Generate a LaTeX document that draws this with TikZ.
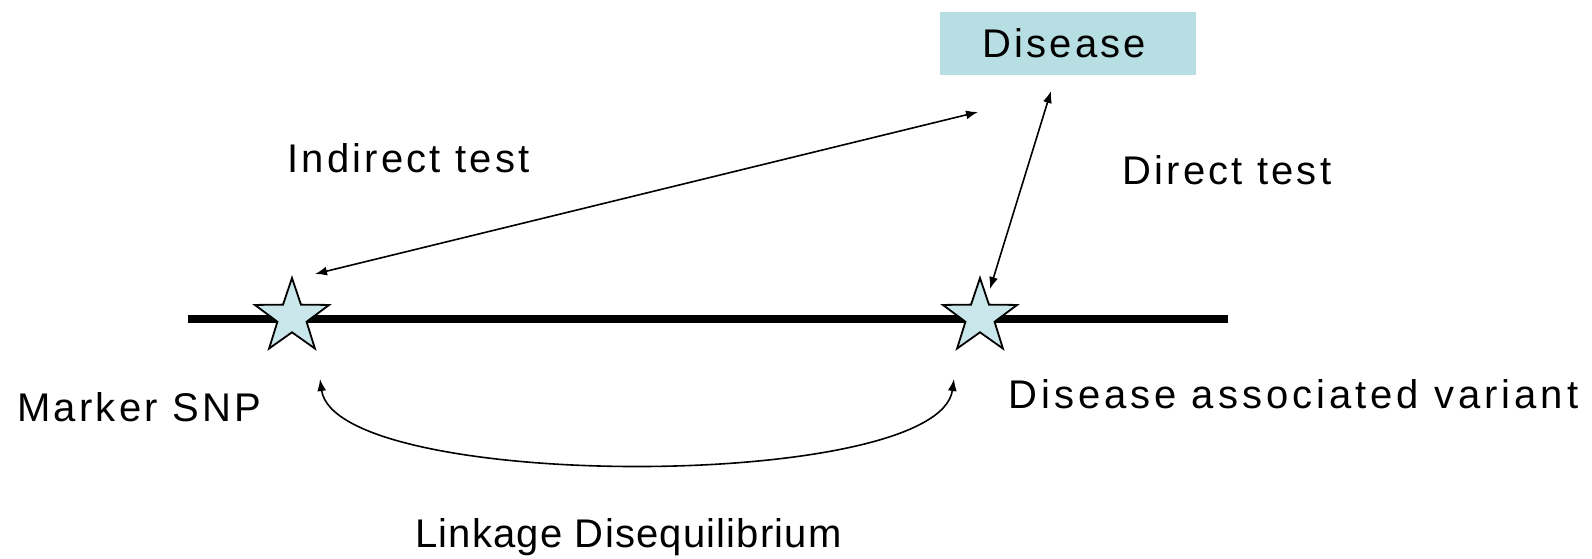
\documentclass[tikz,border=0pt]{standalone}
\usepackage{fontspec}
\setmainfont{Liberation Sans}
\usetikzlibrary{shapes.geometric,arrows.meta}
\definecolor{celeste}{HTML}{B7DFE3}
\definecolor{estrella}{HTML}{C9E7EA}
\newfontfamily\rotulo[LetterSpace=8]{Liberation Sans}
\newfontfamily\rotuloancho[LetterSpace=10]{Liberation Sans}
\newfontfamily\rotulofino[LetterSpace=3]{Liberation Sans}

\begin{document}
\begin{tikzpicture}[x=0.5pt,y=0.5pt,
  snpstar/.style={star,star points=5,star point ratio=2.55,minimum size=39pt,inner sep=0pt,
    draw=black,line width=0.9pt,fill=estrella},
  testarrow/.style={{Latex[length=6pt,width=4.5pt]}-{Latex[length=6pt,width=4.5pt]},line width=0.8pt},
  etiqueta/.style={anchor=base west,inner sep=0pt,font=\rotulo\fontsize{20}{24}\selectfont}]
\useasboundingbox (0,0) rectangle (1592,558);
% cromosoma
\coordinate (izq) at (188,239);
\coordinate (der) at (1228,239);
\draw[line width=4pt] (izq) -- (der);
\node[snpstar] (marcador) at (292,241) {};
\node[snpstar] (variante) at (980,241) {};
% enfermedad
\node[fill=celeste,minimum width=128pt,minimum height=31.5pt,inner sep=0pt] (enfermedad) at (1068,514) {};
\node[etiqueta] (enfermedadtxt) at (982,500) {Disease};
% flechas de prueba
\coordinate (ind1) at (978,446);
\coordinate (ind2) at (315,284);
\coordinate (dir1) at (1051,467);
\coordinate (dir2) at (990,269);
\draw[testarrow] (ind1) -- (ind2);
\draw[testarrow] (dir1) -- (dir2);
% desequilibrio de ligamiento
\coordinate (ld1) at (320,179);
\coordinate (ld2) at (954,179);
\draw[testarrow] (ld1) .. controls (336,66) and (938,66) .. (ld2);
% textos
\node[etiqueta] (indirecto) at (287,385) {Indirect test};
\node[etiqueta] (directo) at (1122,373) {Direct test};
\node[etiqueta] (snp) at (17,137) {Marker SNP};
\node[etiqueta,font=\rotuloancho\fontsize{20}{24}\selectfont] (asociada) at (1008,150) {Disease associated variant};
\node[etiqueta,font=\rotulofino\fontsize{20}{24}\selectfont] (ligamiento) at (415,11) {Linkage Disequilibrium};
\end{tikzpicture}
\end{document}
